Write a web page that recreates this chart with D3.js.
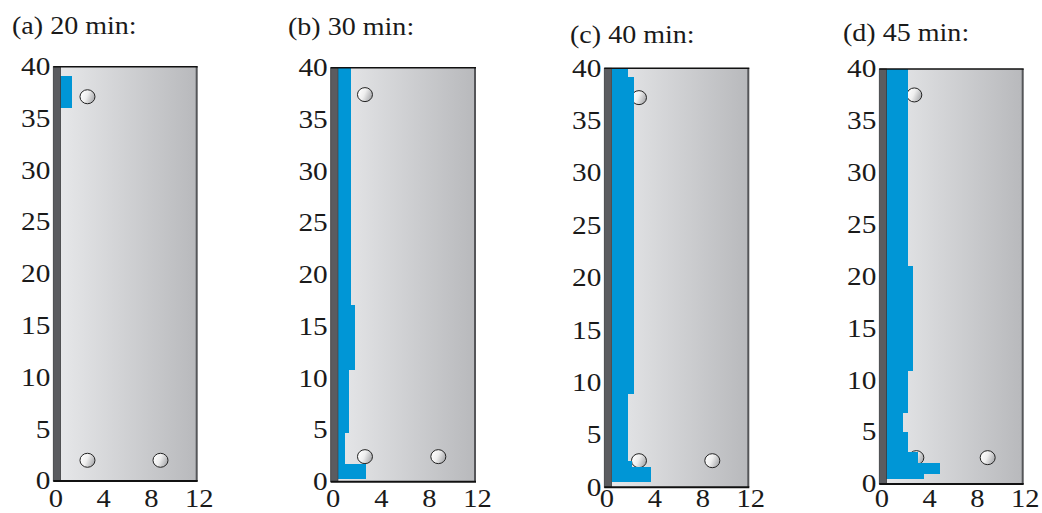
<!DOCTYPE html>
<html>
<head>
<meta charset="utf-8">
<script src="https://cdn.jsdelivr.net/npm/d3@7"></script>
<style>
  html, body { margin: 0; padding: 0; background: #fff; }
  svg { display: block; }
  text { font-family: "Liberation Serif", "Times New Roman", serif; fill: #1a1a1a; }
</style>
</head>
<body>
<svg id="chart" width="1042" height="513"></svg>
<script>
// ---- data ----
const titles = ["(a) 20 min:", "(b) 30 min:", "(c) 40 min:", "(d) 45 min:"];
const yTicks = [0, 5, 10, 15, 20, 25, 30, 35, 40];
const xTicks = [0, 4, 8, 12];
const xDomain = [0, 12];
const yDomain = [0, 40];
const wallWidth = 0.6;
// blue front profiles: [yBottom, yTop, xRight]
const profileA = [[36.0, 39.1, 1.55]];
const profileB = [[0.25, 1.7, 2.95], [1.7, 4.7, 1.15], [4.7, 10.8, 1.55], [10.8, 17.1, 2.05], [17.1, 40, 1.65]];
const profileC = [[0.5, 1.97, 3.87], [1.97, 2.55, 2.28], [2.55, 8.9, 2.0], [8.9, 39.2, 2.48], [39.2, 40, 2.0]];
const profileD = [[0.45, 0.96, 3.74], [0.96, 2.05, 5.07], [2.05, 3.05, 3.26], [3.05, 5.0, 2.38], [5.0, 6.87, 2.01],
                  [6.87, 10.92, 2.38], [10.92, 21.04, 2.85], [21.04, 40, 2.43]];
// sensor positions: [x, y]
const sensorsA = [[2.86, 37.1], [2.86, 2.0], [8.97, 2.0]];
const sensorsB = [[2.85, 37.4], [2.85, 2.42], [8.95, 2.42]];
const sensorsC = [[2.89, 37.2], [2.89, 2.54], [9.0, 2.54]];
const sensorsD = [[2.93, 37.5], [3.1, 2.54], [9.07, 2.54]];

const profiles = [profileA, profileB, profileC, profileD];
const sensors = [sensorsA, sensorsB, sensorsC, sensorsD];

// ---- layout (pixels) ----
const layout = [
  { left: 53.3,  top: 66.7, w: 143.4, h: 414.3, tx: 12,  ty: 34 },
  { left: 330.7, top: 67.7, w: 144.3, h: 414.0, tx: 288, ty: 35 },
  { left: 604.3, top: 68.3, w: 144.0, h: 419.0, tx: 570, ty: 43 },
  { left: 879.3, top: 69.0, w: 143.4, h: 415.0, tx: 843, ty: 41 }
];
const xLabelBaseline = 507;

const svg = d3.select("#chart");
const defs = svg.append("defs");

const boxGrad = defs.append("linearGradient").attr("id", "boxGrad")
  .attr("x1", "0%").attr("x2", "100%").attr("y1", "0%").attr("y2", "0%");
boxGrad.append("stop").attr("offset", "0%").attr("stop-color", "#e6e7e9");
boxGrad.append("stop").attr("offset", "100%").attr("stop-color", "#b8b9bc");

const dotGrad = defs.append("linearGradient").attr("id", "dotGrad")
  .attr("x1", "0%").attr("x2", "100%").attr("y1", "30%").attr("y2", "70%");
dotGrad.append("stop").attr("offset", "0%").attr("stop-color", "#ffffff");
dotGrad.append("stop").attr("offset", "45%").attr("stop-color", "#eeeeee");
dotGrad.append("stop").attr("offset", "100%").attr("stop-color", "#a4a5a8");

titles.forEach((title, i) => {
  const L = layout[i];
  const x = d3.scaleLinear().domain(xDomain).range([L.left, L.left + L.w]);
  const y = d3.scaleLinear().domain(yDomain).range([L.top + L.h, L.top]);
  const g = svg.append("g");

  // title
  g.append("text")
    .attr("transform", `translate(${L.tx},${L.ty}) scale(1.1,1)`)
    .attr("font-size", 25.5)
    .text(title);

  // gray domain
  g.append("rect")
    .attr("x", x(wallWidth)).attr("y", y(40))
    .attr("width", x(12) - x(wallWidth)).attr("height", y(0) - y(40))
    .attr("fill", "url(#boxGrad)");

  // sensors
  g.selectAll("ellipse").data(sensors[i]).join("ellipse")
    .attr("cx", d => x(d[0])).attr("cy", d => y(d[1]))
    .attr("rx", 7.5).attr("ry", 7)
    .attr("fill", "url(#dotGrad)")
    .attr("stroke", "#222").attr("stroke-width", 1);

  // blue front
  g.selectAll("rect.front").data(profiles[i]).join("rect")
    .attr("class", "front")
    .attr("x", x(wallWidth))
    .attr("y", d => y(d[1]))
    .attr("width", d => x(d[2]) - x(wallWidth))
    .attr("height", d => y(d[0]) - y(d[1]))
    .attr("fill", "#0096d6")
    .attr("shape-rendering", "crispEdges");

  // wall strip
  g.append("rect")
    .attr("x", x(0)).attr("y", y(40))
    .attr("width", x(wallWidth) - x(0)).attr("height", y(0) - y(40))
    .attr("fill", "#5b5c60").attr("stroke", "#3a3b3e").attr("stroke-width", 0.8);

  // borders
  g.append("line")
    .attr("x1", x(12)).attr("x2", x(12)).attr("y1", y(40)).attr("y2", y(0))
    .attr("stroke", "#555659").attr("stroke-width", 2);
  g.append("line")
    .attr("x1", x(0)).attr("x2", x(12) + 1).attr("y1", y(40)).attr("y2", y(40))
    .attr("stroke", "#111").attr("stroke-width", 1.6);
  g.append("line")
    .attr("x1", x(0)).attr("x2", x(12) + 1).attr("y1", y(0)).attr("y2", y(0))
    .attr("stroke", "#111").attr("stroke-width", 2);

  // y tick labels
  g.selectAll("text.ylab").data(yTicks).join("text")
    .attr("class", "ylab")
    .attr("transform", d => `translate(${x(0) - 3},${y(d)}) scale(1.15,1)`)
    .attr("text-anchor", "end")
    .attr("dominant-baseline", "central")
    .attr("font-size", 25.5)
    .text(d => d);

  // x tick labels
  g.selectAll("text.xlab").data(xTicks).join("text")
    .attr("class", "xlab")
    .attr("transform", d => `translate(${x(d) + 2.5},${xLabelBaseline}) scale(1.12,1)`)
    .attr("text-anchor", "middle")
    .attr("font-size", 25.5)
    .text(d => d);
});
</script>
</body>
</html>
